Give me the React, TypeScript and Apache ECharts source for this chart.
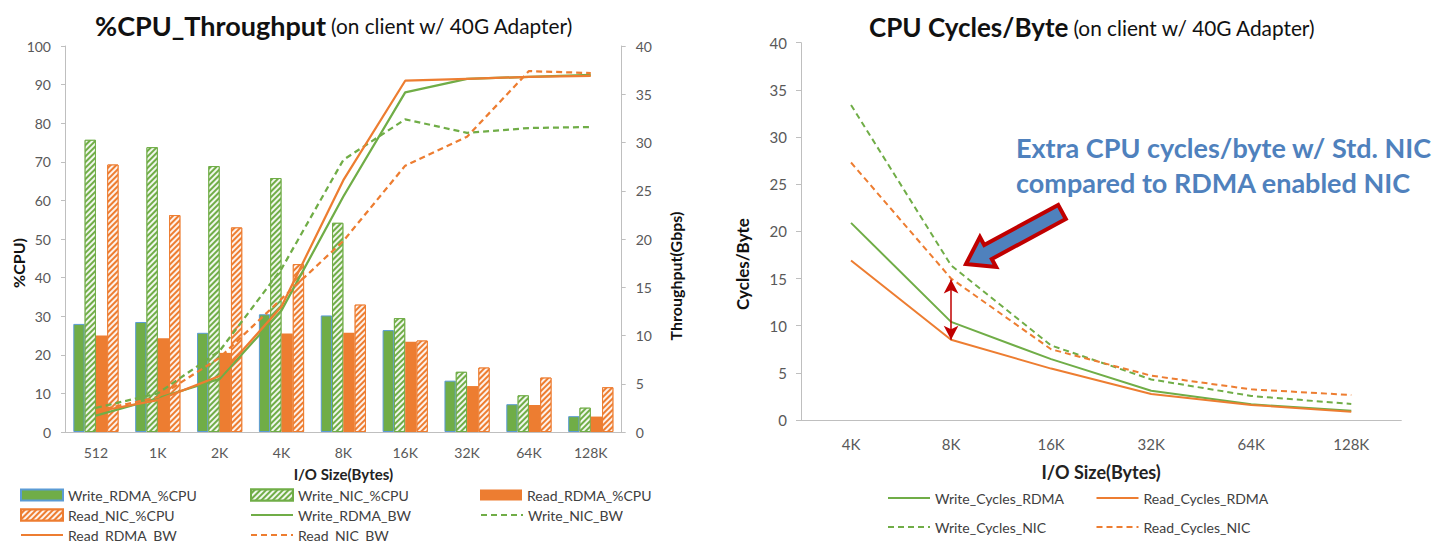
import React, { useEffect, useRef } from "react";
import * as echarts from "echarts";

// ---------- data ----------
const ioSizes = ["512", "1K", "2K", "4K", "8K", "16K", "32K", "64K", "128K"];
const writeRdmaCpu = [28.0, 28.5, 25.7, 30.5, 30.2, 26.4, 13.3, 7.2, 4.1];
const writeNicCpu = [75.7, 73.8, 68.9, 65.8, 54.2, 29.5, 15.6, 9.5, 6.3];
const readRdmaCpu = [25.0, 24.3, 20.5, 25.5, 25.7, 23.4, 11.9, 7.0, 4.0];
const readNicCpu = [69.3, 56.2, 53.0, 43.5, 33.0, 23.7, 16.7, 14.1, 11.6];
const writeRdmaBw = [1.7, 3.5, 5.5, 12.6, 24.4, 35.2, 36.6, 36.8, 37.0];
const readRdmaBw = [2.1, 3.3, 5.8, 13.0, 26.1, 36.4, 36.6, 36.8, 36.9];
const writeNicBw = [2.5, 4.0, 8.4, 16.9, 28.2, 32.4, 31.0, 31.5, 31.6];
const readNicBw = [2.2, 3.6, 7.7, 13.8, 19.8, 27.6, 30.6, 37.4, 37.2];

const cycleSizes = ["4K", "8K", "16K", "32K", "64K", "128K"];
const writeCyclesRdma = [20.9, 10.4, 6.45, 3.1, 1.66, 0.99];
const readCyclesRdma = [16.9, 8.5, 5.45, 2.75, 1.6, 0.88];
const writeCyclesNic = [33.4, 16.4, 7.9, 4.3, 2.55, 1.7];
const readCyclesNic = [27.3, 15.0, 7.5, 4.7, 3.25, 2.65];

const cpuAxis = { min: 0, max: 100, interval: 10 };
const bwAxis = { min: 0, max: 40, interval: 5 };
const cyclesAxis = { min: 0, max: 40, interval: 5 };
const gapMarker = { category: "8K", top: 14.9, bottom: 8.5 };

const leftTitle = "%CPU_Throughput";
const rightTitle = "CPU Cycles/Byte";
const subTitle = "(on client w/ 40G Adapter)";
const noteLines = ["Extra CPU cycles/byte w/ Std. NIC", "compared to RDMA enabled NIC"];

// ---------- styles ----------
const FONT = "Lato";
const GREEN = "#70AD47";
const ORANGE = "#ED7D31";
const BLUE_EDGE = "#5B9BD5";
const AXIS = "#BFBFBF";
const LABEL = "#595959";

const hatch = (color: string) => ({
  color,
  borderColor: color,
  borderWidth: 1,
  decal: {
    symbol: "rect",
    symbolSize: 1,
    color: "rgba(255,255,255,0.9)",
    dashArrayX: [1, 0],
    dashArrayY: [1.5, 1.5],
    rotation: -Math.PI / 4,
  },
});

export default function App() {
  const ref = useRef<HTMLDivElement>(null);
  useEffect(() => {
    if (!ref.current) return;
    const chart = echarts.init(ref.current, undefined, { renderer: "svg" });

    const axisLabel = (size: number) => ({ color: LABEL, fontSize: size, fontFamily: FONT });
    const barW = 11.3;
    const dash = [6, 4];

    const mkLegend = (name: string, left: number, top: number, isBar: boolean) => {
      const l: any = {
        left,
        top,
        padding: 0,
        itemWidth: 42,
        itemHeight: 11,
        selectedMode: false,
        data: [name],
        textStyle: { color: "#404040", fontSize: 14, fontFamily: FONT, lineHeight: 16 },
      };
      if (isBar) l.icon = "rect";
      else l.itemStyle = { opacity: 0 };
      return l;
    };

    const option: any = {
      animation: false,
      backgroundColor: "#ffffff",
      title: [
        {
          text: `{a|${leftTitle}} {b|${subTitle}}`,
          left: 95,
          top: 8,
          padding: 0,
          textStyle: {
            rich: {
              a: { fontFamily: FONT, fontWeight: "bold", fontSize: 27, color: "#111", lineHeight: 34 },
              b: { fontFamily: FONT, fontWeight: "normal", fontSize: 20.8, color: "#111", lineHeight: 34 },
            },
          },
        },
        {
          text: `{a|${rightTitle}} {b|${subTitle}}`,
          left: 869,
          top: 10,
          padding: 0,
          textStyle: {
            rich: {
              a: { fontFamily: FONT, fontWeight: "bold", fontSize: 26, color: "#111", lineHeight: 34 },
              b: { fontFamily: FONT, fontWeight: "normal", fontSize: 20.8, color: "#111", lineHeight: 34 },
            },
          },
        },
      ],
      grid: [
        { left: 65, top: 46, width: 556.7, height: 386 },
        { left: 801, top: 42.7, width: 600.3, height: 377.3 },
      ],
      xAxis: [
        {
          gridIndex: 0,
          type: "category",
          data: ioSizes,
          axisLine: { lineStyle: { color: AXIS } },
          axisTick: { alignWithLabel: true, length: 4, lineStyle: { color: AXIS } },
          axisLabel: { ...axisLabel(14), margin: 13 },
          name: "I/O Size(Bytes)",
          nameLocation: "middle",
          nameGap: 34,
          nameTextStyle: { fontFamily: FONT, fontWeight: "bold", fontSize: 15, color: "#222" },
        },
        {
          gridIndex: 1,
          type: "category",
          data: cycleSizes,
          axisLine: { lineStyle: { color: AXIS } },
          axisTick: { alignWithLabel: true, length: 5, lineStyle: { color: AXIS } },
          axisLabel: { ...axisLabel(15), margin: 16 },
          name: "I/O Size(Bytes)",
          nameLocation: "middle",
          nameGap: 43,
          nameTextStyle: { fontFamily: FONT, fontWeight: "bold", fontSize: 18, color: "#222" },
        },
      ],
      yAxis: [
        {
          gridIndex: 0,
          type: "value",
          ...cpuAxis,
          splitLine: { show: false },
          axisLine: { show: true, lineStyle: { color: AXIS } },
          axisTick: { show: true, length: 4, lineStyle: { color: AXIS } },
          axisLabel: { ...axisLabel(14), margin: 14 },
        },
        {
          gridIndex: 0,
          type: "value",
          position: "right",
          ...bwAxis,
          splitLine: { show: false },
          axisLine: { show: true, lineStyle: { color: AXIS } },
          axisTick: { show: true, length: 4, lineStyle: { color: AXIS } },
          axisLabel: { ...axisLabel(14), margin: 14 },
        },
        {
          gridIndex: 1,
          type: "value",
          ...cyclesAxis,
          splitLine: { show: false },
          axisLine: { show: true, lineStyle: { color: AXIS } },
          axisTick: { show: true, length: 5, lineStyle: { color: AXIS } },
          axisLabel: { ...axisLabel(15), margin: 14 },
        },
      ],
      legend: [
        mkLegend("Write_RDMA_%CPU", 20, 487, true),
        mkLegend("Write_NIC_%CPU", 250, 487, true),
        mkLegend("Read_RDMA_%CPU", 480, 487, true),
        mkLegend("Read_NIC_%CPU", 20, 507, true),
        mkLegend("Write_RDMA_BW", 250, 507, false),
        mkLegend("Write_NIC_BW", 480, 507, false),
        mkLegend("Read_RDMA_BW", 20, 527, false),
        mkLegend("Read_NIC_BW", 250, 527, false),
        mkLegend("Write_Cycles_RDMA", 887, 490, false),
        mkLegend("Read_Cycles_RDMA", 1095.5, 490, false),
        mkLegend("Write_Cycles_NIC", 887, 519, false),
        mkLegend("Read_Cycles_NIC", 1095.5, 519, false),
      ],
      series: [
        {
          name: "Write_RDMA_%CPU",
          type: "bar",
          data: writeRdmaCpu,
          barWidth: barW,
          barGap: "0%",
          itemStyle: { color: GREEN, borderColor: BLUE_EDGE, borderWidth: 1 },
        },
        { name: "Write_NIC_%CPU", type: "bar", data: writeNicCpu, barWidth: barW, barGap: "0%", itemStyle: hatch(GREEN) },
        { name: "Read_RDMA_%CPU", type: "bar", data: readRdmaCpu, barWidth: barW, barGap: "0%", itemStyle: { color: ORANGE } },
        { name: "Read_NIC_%CPU", type: "bar", data: readNicCpu, barWidth: barW, barGap: "0%", itemStyle: hatch(ORANGE) },
        {
          name: "Write_RDMA_BW", type: "line", yAxisIndex: 1, data: writeRdmaBw, symbol: "none",
          itemStyle: { color: GREEN }, lineStyle: { color: GREEN, width: 2.25 },
        },
        {
          name: "Write_NIC_BW", type: "line", yAxisIndex: 1, data: writeNicBw, symbol: "none",
          itemStyle: { color: GREEN }, lineStyle: { color: GREEN, width: 2.25, type: dash },
        },
        {
          name: "Read_RDMA_BW", type: "line", yAxisIndex: 1, data: readRdmaBw, symbol: "none",
          itemStyle: { color: ORANGE }, lineStyle: { color: ORANGE, width: 2.25 },
        },
        {
          name: "Read_NIC_BW", type: "line", yAxisIndex: 1, data: readNicBw, symbol: "none",
          itemStyle: { color: ORANGE }, lineStyle: { color: ORANGE, width: 2.25, type: dash },
        },
        {
          name: "Write_Cycles_RDMA", type: "line", xAxisIndex: 1, yAxisIndex: 2, data: writeCyclesRdma, symbol: "none",
          itemStyle: { color: GREEN }, lineStyle: { color: GREEN, width: 2 },
        },
        {
          name: "Read_Cycles_RDMA", type: "line", xAxisIndex: 1, yAxisIndex: 2, data: readCyclesRdma, symbol: "none",
          itemStyle: { color: ORANGE }, lineStyle: { color: ORANGE, width: 2 },
          markLine: {
            silent: true,
            symbol: ["arrow", "arrow"],
            symbolSize: [11, 14],
            label: { show: false },
            lineStyle: { color: "#C00000", width: 1.5, type: "solid" },
            data: [[
              { coord: [gapMarker.category, gapMarker.top] },
              { coord: [gapMarker.category, gapMarker.bottom] },
            ]],
          },
        },
        {
          name: "Write_Cycles_NIC", type: "line", xAxisIndex: 1, yAxisIndex: 2, data: writeCyclesNic, symbol: "none",
          itemStyle: { color: GREEN }, lineStyle: { color: GREEN, width: 2, type: dash },
        },
        {
          name: "Read_Cycles_NIC", type: "line", xAxisIndex: 1, yAxisIndex: 2, data: readCyclesNic, symbol: "none",
          itemStyle: { color: ORANGE }, lineStyle: { color: ORANGE, width: 2, type: dash },
        },
      ],
      graphic: [
        {
          type: "text", x: 18, y: 263, rotation: Math.PI / 2,
          style: { text: "%CPU)", fontFamily: FONT, fontWeight: "bold", fontSize: 16, fill: "#111", align: "center", verticalAlign: "middle" },
        },
        {
          type: "text", x: 675, y: 276, rotation: Math.PI / 2,
          style: { text: "Throughput(Gbps)", fontFamily: FONT, fontWeight: "bold", fontSize: 16, fill: "#111", align: "center", verticalAlign: "middle" },
        },
        {
          type: "text", x: 742, y: 264, rotation: Math.PI / 2,
          style: { text: "Cycles/Byte", fontFamily: FONT, fontWeight: "bold", fontSize: 17, fill: "#111", align: "center", verticalAlign: "middle" },
        },
        {
          type: "text", x: 1016, y: 147,
          style: { text: noteLines[0], fontFamily: FONT, fontWeight: "bold", fontSize: 27, fill: "#4F81BD", verticalAlign: "middle" },
        },
        {
          type: "text", x: 1016, y: 182,
          style: { text: noteLines[1], fontFamily: FONT, fontWeight: "bold", fontSize: 27, fill: "#4F81BD", verticalAlign: "middle" },
        },
        {
          type: "polygon",
          shape: {
            points: [
              [966, 264], [979.9, 237], [984.2, 245], [1058.2, 205],
              [1065.8, 219], [991.8, 259], [996.1, 267],
            ],
          },
          style: { fill: "#4F81BD", stroke: "#C00000", lineWidth: 4, lineJoin: "miter" },
        },
      ],
    };

    chart.setOption(option);
    return () => chart.dispose();
  }, []);

  return (
    <div
      ref={ref}
      style={{ position: "fixed", left: 0, top: 0, width: 1438, height: 542, background: "#fff" }}
    />
  );
}
